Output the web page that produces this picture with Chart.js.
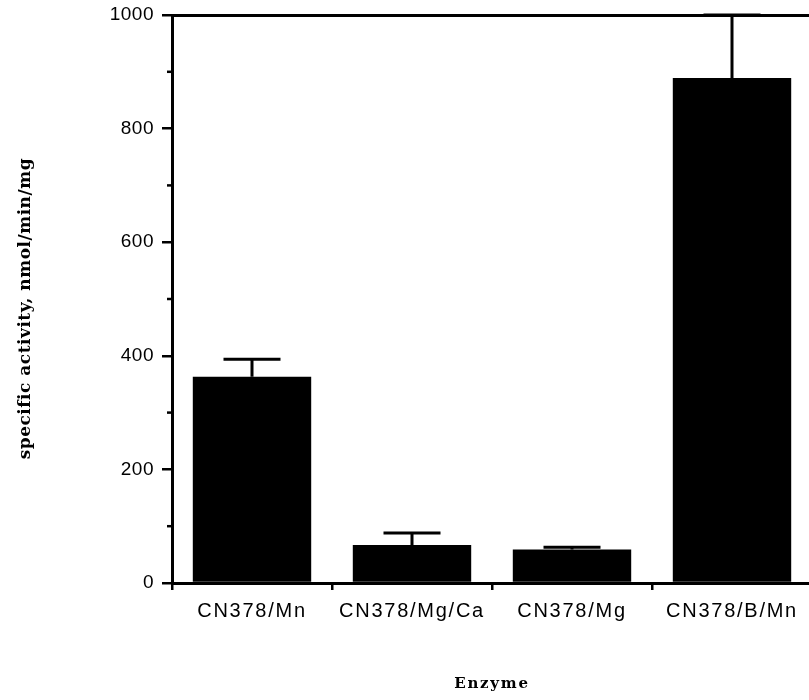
<!DOCTYPE html>
<html>
<head>
<meta charset="utf-8">
<script src="https://cdn.jsdelivr.net/npm/chart.js@4"></script>
<style>
  html, body { margin: 0; padding: 0; background: #fff; overflow: hidden; }
</style>
</head>
<body>
<canvas id="barChart" width="820" height="700"></canvas>
<script>
var enzymes = ["CN378/Mn", "CN378/Mg/Ca", "CN378/Mg", "CN378/B/Mn"];
var activity = [363, 67, 59, 889];
var activityErr = [31, 21, 4, 111];
var minorTicks = [100, 300, 500, 700, 900];

// error bars (upper only) + minor ticks on y axis
var errorBars = {
  id: "errorBars",
  beforeDraw: function (chart) {
    chart.ctx.letterSpacing = "0.5px";
  },
  afterDatasetsDraw: function (chart) {
    var ctx = chart.ctx;
    var y = chart.scales.y;
    var meta = chart.getDatasetMeta(0);
    ctx.save();
    ctx.letterSpacing = "0px";
    ctx.strokeStyle = "#000";
    ctx.lineWidth = 3;
    meta.data.forEach(function (bar, i) {
      var top = y.getPixelForValue(activity[i] + activityErr[i]);
      ctx.beginPath();
      ctx.moveTo(bar.x, bar.y);
      ctx.lineTo(bar.x, top);
      ctx.moveTo(bar.x - 28.5, top);
      ctx.lineTo(bar.x + 28.5, top);
      ctx.stroke();
    });
    ctx.lineWidth = 2.5;
    minorTicks.forEach(function (v) {
      var py = y.getPixelForValue(v);
      ctx.beginPath();
      ctx.moveTo(chart.chartArea.left - 5, py);
      ctx.lineTo(chart.chartArea.left, py);
      ctx.stroke();
    });
    ctx.restore();
    // x axis layers (z: 1) are drawn after this
    ctx.letterSpacing = "1.75px";
  },
  afterDraw: function (chart) {
    chart.ctx.letterSpacing = "0px";
  }
};

var ctx = document.getElementById("barChart").getContext("2d");
var barChart = new Chart(ctx, {
  type: "bar",
  data: {
    labels: enzymes,
    datasets: [
      {
        label: "specific activity",
        data: activity,
        backgroundColor: "#000",
        borderWidth: 0,
        categoryPercentage: 1.0,
        barPercentage: 0.74,
      },
    ],
  },
  options: {
    responsive: false,
    animation: false,
    layout: { padding: { left: 0, right: 8, top: 0, bottom: 0 } },
    plugins: {
      legend: { display: false },
      tooltip: { enabled: false },
    },
    scales: {
      x: {
        position: "bottom",
        grid: {
          z: 1,
          drawOnChartArea: false,
          color: "#000",
          lineWidth: 2.5,
          tickLength: 7,
        },
        border: { color: "#000", width: 3, z: 1 },
        ticks: {
          z: 1,
          color: "#000",
          padding: 9,
          autoSkip: false,
          maxRotation: 0,
          font: { family: "'Liberation Sans', Arial, sans-serif", size: 20 },
        },
        title: {
          display: true,
          text: "Enzyme",
          color: "#000",
          padding: { top: 0, bottom: 7 },
          font: { family: "'DejaVu Serif', serif", size: 15, weight: "bold" },
        },
        afterFit: function (scale) {
          scale.height = 117;
        },
      },
      x2: {
        position: "top",
        type: "category",
        labels: enzymes,
        grid: { display: false },
        ticks: { display: false },
        border: { color: "#000", width: 3 },
        afterFit: function (scale) {
          scale.height = 15;
          scale.paddingLeft = 0;
          scale.paddingRight = 0;
        },
      },
      y: {
        min: 0,
        max: 1000,
        ticks: {
          stepSize: 200,
          color: "#000",
          padding: 8,
          font: { family: "'Liberation Sans', Arial, sans-serif", size: 19 },
          callback: function (value) {
            return String(value);
          },
        },
        grid: {
          drawOnChartArea: false,
          color: "#000",
          lineWidth: 2.5,
          tickLength: 10,
        },
        border: { color: "#000", width: 3 },
        title: {
          display: true,
          text: "specific activity, nmol/min/mg   ",
          color: "#000",
          padding: { top: 15, bottom: 0 },
          font: { family: "'DejaVu Serif', serif", size: 17, weight: "bold" },
        },
        afterFit: function (scale) {
          scale.width = 172;
          scale.paddingTop = 0;
          scale.paddingBottom = 0;
        },
      },
    },
  },
  plugins: [errorBars],
});
</script>
</body>
</html>
